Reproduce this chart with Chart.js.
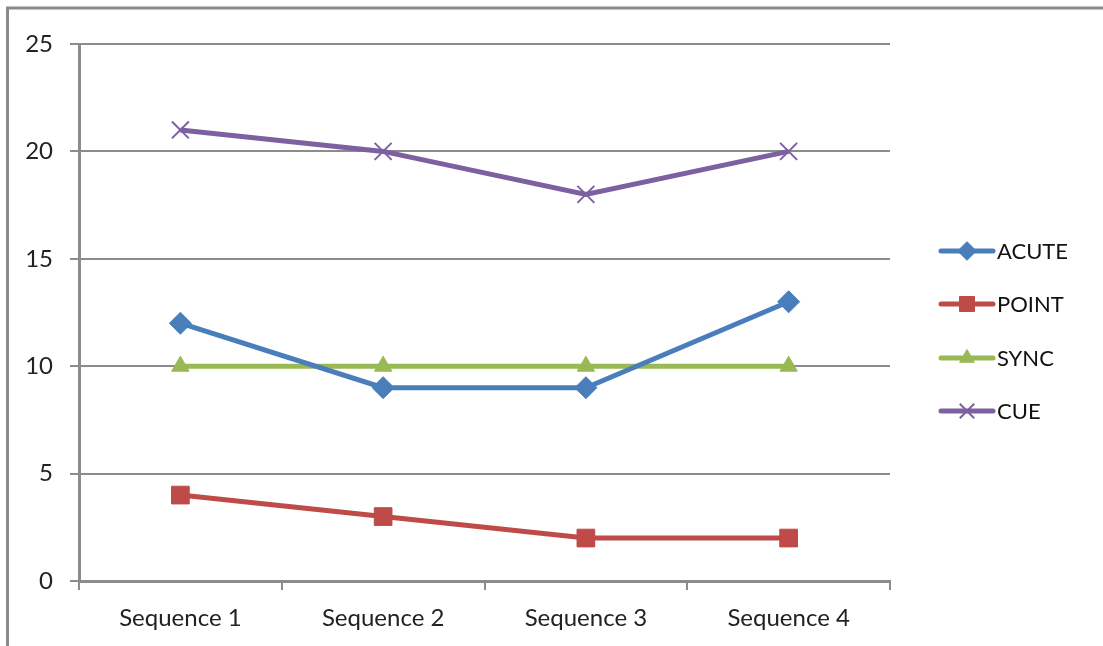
<!DOCTYPE html>
<html>
<head>
<meta charset="utf-8">
<script src="https://cdn.jsdelivr.net/npm/chart.js@4/dist/chart.umd.min.js"></script>
<style>
  html, body { margin: 0; padding: 0; background: #ffffff; }
  #wrap { position: relative; width: 1103px; height: 646px; }
</style>
</head>
<body>
<div id="wrap"><canvas id="chart" width="1103" height="646"></canvas></div>
<script>
// Categories and series values
const categories = ['Sequence 1', 'Sequence 2', 'Sequence 3', 'Sequence 4'];
const acute = [12, 9, 9, 13];
const point = [4, 3, 2, 2];
const sync = [10, 10, 10, 10];
const cue = [21, 20, 18, 20];
const yTicks = [0, 5, 10, 15, 20, 25];

const FONT = 'Lato, "Open Sans", sans-serif';
const GRID = '#8c8c8c';

const seriesStyle = [
  { label: 'ACUTE', data: acute, color: '#4a7ebb', style: 'rectRot',  r: 11 },
  { label: 'POINT', data: point, color: '#be4b48', style: 'rect',     r: 12.5 },
  { label: 'SYNC',  data: sync,  color: '#98b954', style: 'triangle', r: 10 },
  { label: 'CUE',   data: cue,   color: '#7d60a0', style: 'crossRot', r: 12 }
];

// Frame along the top and left of the picture
const framePlugin = {
  id: 'frame',
  beforeDraw(chart) {
    const ctx = chart.ctx;
    ctx.save();
    ctx.strokeStyle = '#8a8a8a';
    ctx.lineWidth = 3;
    ctx.beginPath();
    ctx.moveTo(7.5, 646);
    ctx.lineTo(7.5, 8);
    ctx.lineTo(1103, 8);
    ctx.stroke();
    ctx.restore();
  }
};

// Legend on the right: a line sample with the series marker and its name
const legendPlugin = {
  id: 'sideLegend',
  afterDraw(chart) {
    const ctx = chart.ctx;
    const x0 = 941, x1 = 993, tx = 997;
    const ys = [251, 304, 358, 411];
    ctx.save();
    chart.data.datasets.forEach((ds, i) => {
      const y = ys[i];
      ctx.strokeStyle = ds.borderColor;
      ctx.lineWidth = 5;
      ctx.lineCap = 'round';
      ctx.beginPath();
      ctx.moveTo(x0, y);
      ctx.lineTo(x1, y);
      ctx.stroke();
      ctx.fillStyle = ds.borderColor;
      ctx.strokeStyle = ds.borderColor;
      ctx.lineWidth = ds.pointBorderWidth;
      ctx.lineCap = 'butt';
      Chart.helpers.drawPoint(ctx, {
        pointStyle: ds.pointStyle,
        radius: ds.pointRadius * 0.85,
        rotation: 0,
        borderWidth: ds.pointBorderWidth
      }, (x0 + x1) / 2, y);
      ctx.fillStyle = '#111';
      ctx.font = '22px ' + FONT;
      ctx.textAlign = 'left';
      ctx.textBaseline = 'middle';
      ctx.fillText(ds.label, tx, y + 1);
    });
    ctx.restore();
  }
};

new Chart(document.getElementById('chart'), {
  type: 'line',
  data: {
    labels: categories,
    datasets: seriesStyle.map(s => ({
      label: s.label,
      data: s.data,
      borderColor: s.color,
      backgroundColor: s.color,
      pointBackgroundColor: s.color,
      pointBorderColor: s.color,
      pointStyle: s.style,
      pointRadius: s.r,
      pointBorderWidth: s.style === 'crossRot' ? 2 : 1,
      borderWidth: 5,
      tension: 0,
      fill: false
    }))
  },
  options: {
    responsive: false,
    animation: false,
    layout: { padding: { top: 44, right: 213, bottom: 0, left: 0 } },
    plugins: {
      legend: { display: false },
      tooltip: { enabled: false }
    },
    scales: {
      x: {
        offset: true,
        grid: {
          offset: true,
          drawOnChartArea: false,
          color: GRID,
          lineWidth: 2,
          tickLength: 9,
          tickWidth: 2
        },
        border: { color: GRID, width: 3 },
        ticks: {
          color: '#222',
          font: { family: FONT, size: 24 },
          padding: 14,
          maxRotation: 0
        },
        afterFit(scale) { scale.height = 65; }
      },
      y: {
        min: 0,
        max: 25,
        afterBuildTicks(scale) { scale.ticks = yTicks.map(v => ({ value: v })); },
        grid: {
          color: GRID,
          lineWidth: 2,
          tickLength: 9,
          tickWidth: 2
        },
        border: { color: GRID, width: 3 },
        ticks: {
          color: '#222',
          font: { family: FONT, size: 24 },
          padding: 17
        },
        afterFit(scale) { scale.width = 79; }
      }
    }
  },
  plugins: [framePlugin, legendPlugin]
});
</script>
</body>
</html>
